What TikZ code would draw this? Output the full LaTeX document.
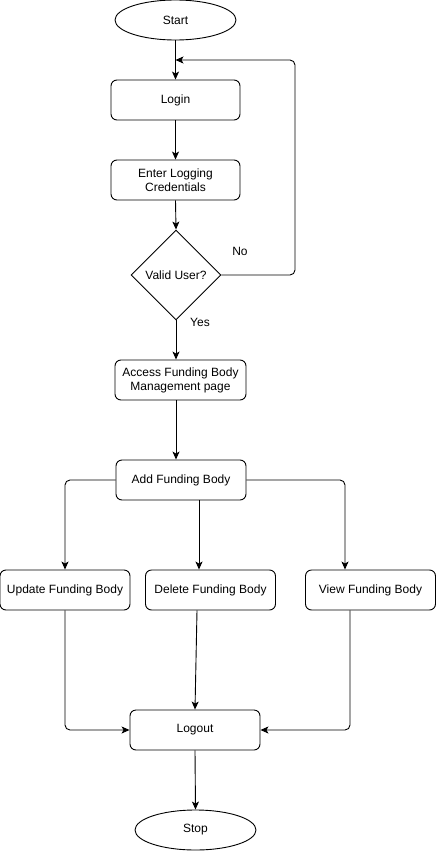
\documentclass[tikz,border=0pt]{standalone}
\usepackage{fontspec}
\setmainfont{Liberation Sans}
\usetikzlibrary{shapes.geometric,arrows.meta,calc}
\begin{document}
\begin{tikzpicture}[x=1pt,y=-1pt,
  every node/.style={font=\fontsize{12}{14}\selectfont, align=center, line width=0.9pt},
  box/.style={draw, rectangle, rounded corners=6pt, minimum width=130pt, minimum height=40pt, inner sep=2pt},
  term/.style={draw, ellipse, minimum width=121pt, minimum height=40pt, inner sep=0pt},
  dec/.style={draw, diamond, minimum width=90pt, minimum height=90pt, inner sep=0pt},
  conn/.style={line width=0.9pt, -{Stealth[length=8pt,width=7pt,inset=2pt]}, rounded corners=5pt},
  lbl/.style={font=\fontsize{12}{14}\selectfont}]
\useasboundingbox (0,0) rectangle (436,851);
\fill[white] (0,0) rectangle (436,851);

\node[term] (start) at (175.5,20) {Start};
\node[box, minimum width=129pt] (login) at (175.5,100) {Login};
\node[box, minimum width=129pt] (cred) at (175.5,180) {Enter Logging\\Credentials};
\node[dec] (valid) at (176,275) {Valid User?};
\node[box, minimum width=131pt] (access) at (180.5,380) {Access Funding Body\\Management page};
\node[box] (add) at (181,480) {Add Funding Body};
\node[box] (update) at (65,590) {Update Funding Body};
\node[box] (delete) at (210.5,590) {Delete Funding Body};
\node[box] (view) at (370.5,590) {View Funding Body};
\node[box] (logout) at (195,730) {Logout};
\node[term] (stop) at (195.5,830) {Stop};

\coordinate (loopr) at (295,0);
\coordinate (mx) at (199,0);
\coordinate (vx) at (345,0);
\coordinate (vbx) at (350,0);
\coordinate (dbx) at (197,0);
\coordinate (ly) at (0,60);

\draw[conn] (start.south) -- (login.north);
\draw[conn] (login.south) -- (cred.north);
\draw[conn] (cred.south) -- (valid.north);
\draw[conn] (valid.east) -- (valid.east -| loopr) -- (loopr |- ly) -- (start.south |- ly);
\node[lbl] (no) at (240,251) {No};
\node[lbl] (yes) at (200,322) {Yes};
\draw[conn] (valid.south) -- (valid.south |- access.north);
\draw[conn] (valid.south |- access.south) -- (valid.south |- add.north);
\draw[conn] (add.west) -| (update.north);
\draw[conn] (add.south -| mx) -- (delete.north -| mx);
\draw[conn] (add.east) -| (vx |- view.north);
\draw[conn] (update.south) |- (logout.west);
\draw[conn] (delete.south -| dbx) -- (logout.north);
\draw[conn] (vbx |- view.south) |- (logout.east);
\draw[conn] (logout.south) -- (stop.north);
\end{tikzpicture}
\end{document}
